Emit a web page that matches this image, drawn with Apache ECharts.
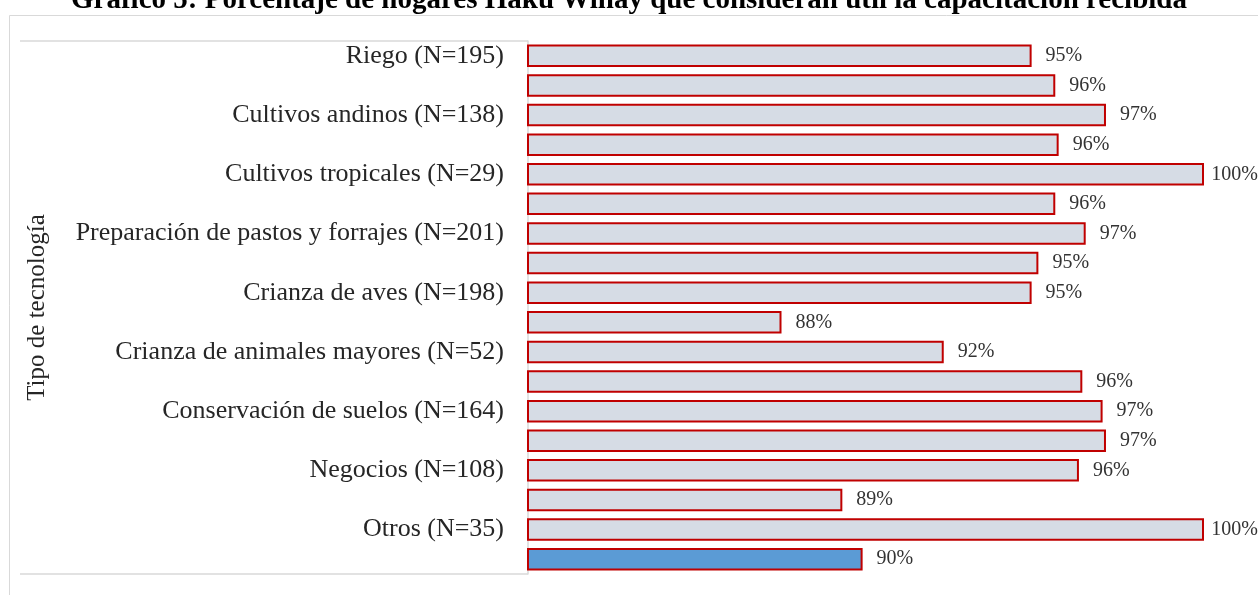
<!DOCTYPE html>
<html>
<head>
<meta charset="utf-8">
<script src="https://cdn.jsdelivr.net/npm/echarts@6/dist/echarts.min.js"></script>
<style>
  html, body { margin: 0; padding: 0; background: #fff; }
  #chart { width: 1258px; height: 595px; }
</style>
</head>
<body>
<div id="chart"></div>
<script>
// categorías (una etiqueta cada dos barras, como en el original)
const categories = [
  'Riego (N=195)', '',
  'Cultivos andinos (N=138)', '',
  'Cultivos tropicales (N=29)', '',
  'Preparación de pastos y forrajes (N=201)', '',
  'Crianza de aves (N=198)', '',
  'Crianza de animales mayores (N=52)', '',
  'Conservación de suelos (N=164)', '',
  'Negocios (N=108)', '',
  'Otros (N=35)', ''
]
// porcentaje que considera útil la capacitación
const values = [
  94.9, 95.6, 97.1, 95.7, 100, 95.6, 96.5, 95.1, 94.9,
  87.5, 92.3, 96.4, 97.0, 97.1, 96.3, 89.3, 100, 89.9
]
// la última barra va resaltada
const highlightIndex = 17

const serif = '"Liberation Serif", "DejaVu Serif", serif'
const W = 1258

const chart = echarts.init(document.getElementById('chart'))

const option = {
  backgroundColor: '#fff',
  animation: false,
  title: {
    text: 'Gráfico 5: Porcentaje de hogares Haku Wiñay que consideran útil la capacitación recibida',
    left: 'center',
    top: -19,
    textStyle: {
      fontFamily: serif,
      fontSize: 29,
      fontWeight: 'bold',
      color: '#000'
    }
  },
  graphic: [
    {
      type: 'rect',
      left: 7,
      top: 13,
      shape: { width: 1300, height: 700 },
      style: { fill: 'none', stroke: '#d9d9d9', lineWidth: 1 },
      silent: true
    },
    {
      type: 'line',
      shape: { x1: 20, y1: 41, x2: 528, y2: 41 },
      style: { stroke: '#d9d9d9', lineWidth: 1.5 },
      silent: true
    },
    {
      type: 'line',
      shape: { x1: 20, y1: 574, x2: 528, y2: 574 },
      style: { stroke: '#d9d9d9', lineWidth: 1.5 },
      silent: true
    }
  ],
  grid: {
    left: 528,
    right: 54,
    top: 41,
    bottom: 21,
    containLabel: false
  },
  xAxis: {
    type: 'value',
    min: 80,
    max: 100,
    show: false
  },
  yAxis: {
    type: 'category',
    inverse: true,
    data: categories,
    name: 'Tipo de tecnología',
    nameLocation: 'middle',
    nameRotate: 90,
    nameGap: 478,
    nameTextStyle: {
      fontFamily: serif,
      fontSize: 25,
      color: '#262626'
    },
    axisLine: { show: true, lineStyle: { color: '#d9d9d9', width: 1.5 } },
    axisTick: { show: false },
    axisLabel: {
      interval: 0,
      margin: 24,
      fontFamily: serif,
      fontSize: 26,
      color: '#262626'
    }
  },
  series: [
    {
      type: 'bar',
      data: values.map((v, i) => ({
        value: v,
        itemStyle: i === highlightIndex ? { color: '#5B9BD5' } : {}
      })),
      barCategoryGap: '24%',
      itemStyle: {
        color: '#D6DCE5',
        borderColor: '#C00000',
        borderWidth: 2
      },
      label: {
        show: true,
        position: 'right',
        distance: 14,
        fontFamily: serif,
        fontSize: 20,
        color: '#333',
        formatter: p => Math.round(p.value) + '%'
      },
      // como en Excel: si la etiqueta no cabe, se pega al borde derecho
      labelLayout: params => {
        const r = params.labelRect
        if (r.x + r.width > W) {
          return { x: W - r.width, y: r.y, align: 'left', verticalAlign: 'top' }
        }
        return {}
      }
    }
  ]
}

chart.setOption(option)
</script>
</body>
</html>
